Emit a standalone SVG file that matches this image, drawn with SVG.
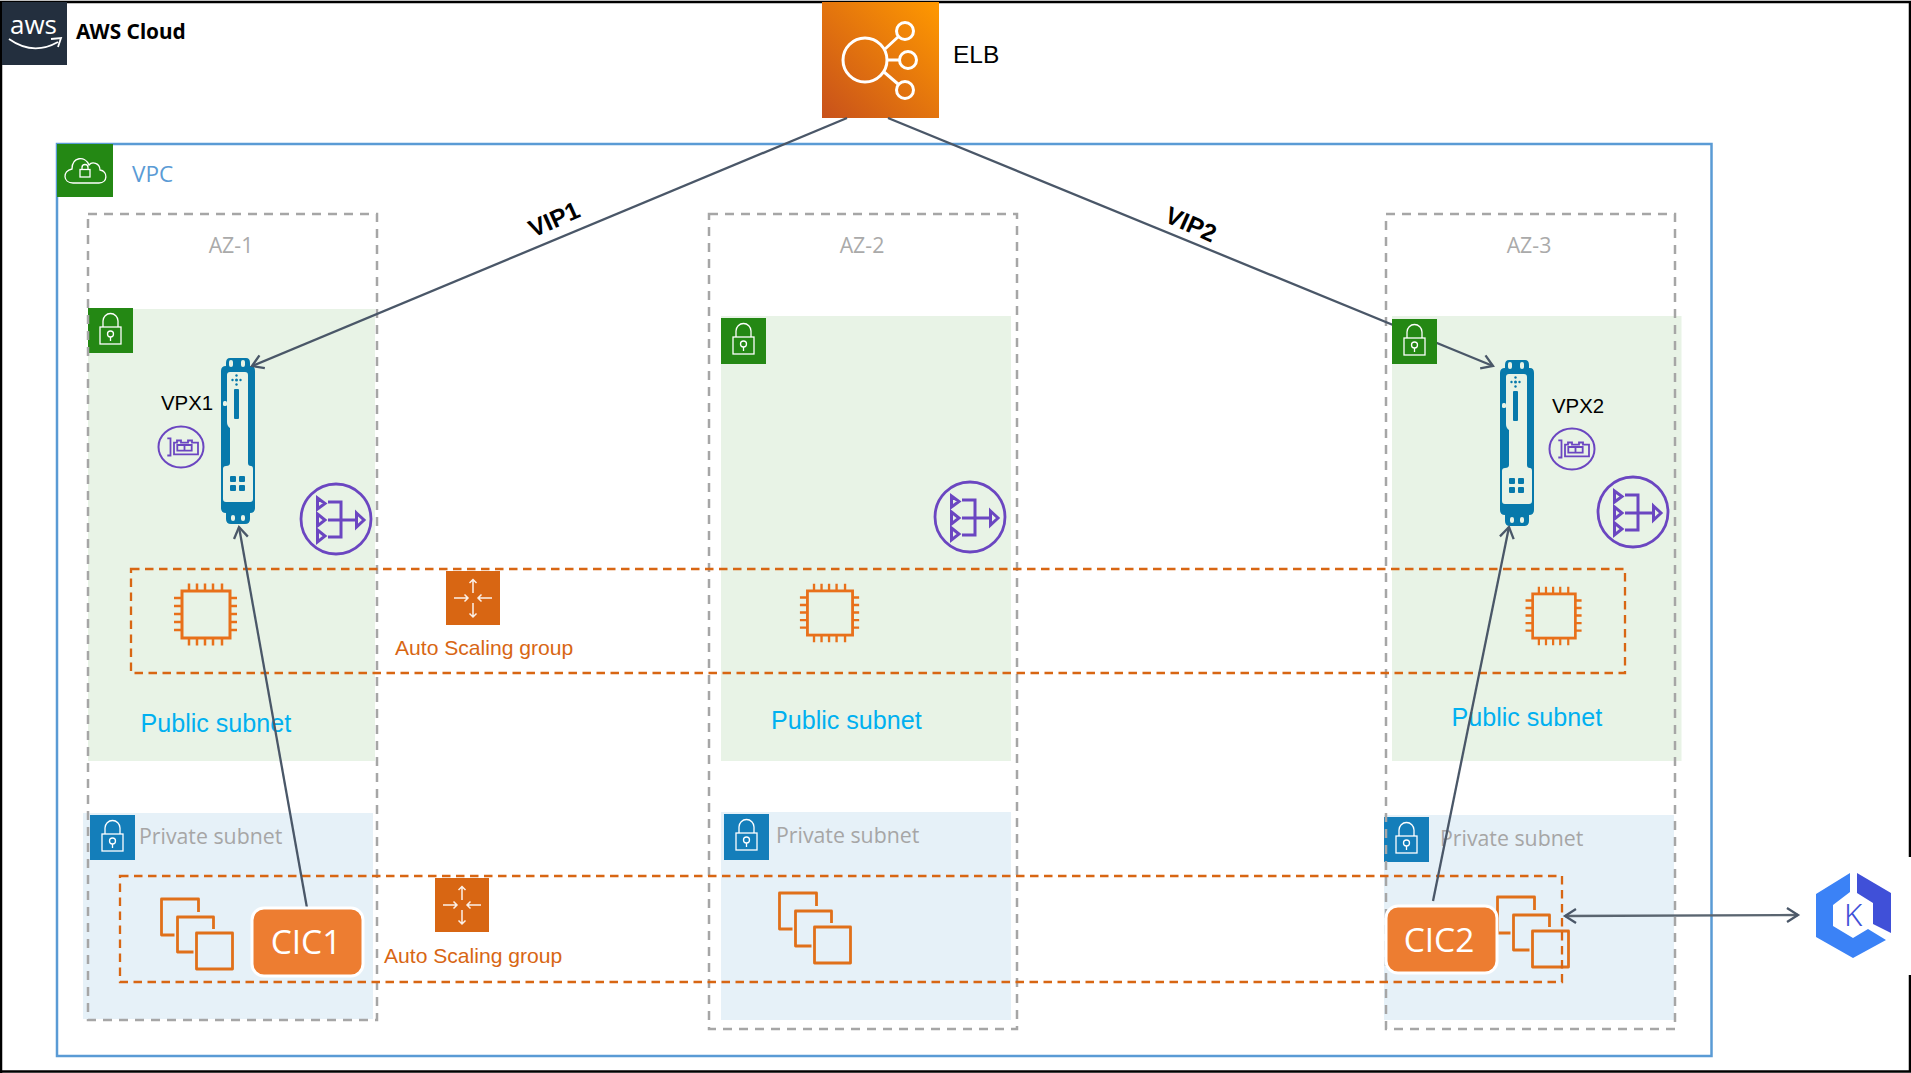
<svg xmlns="http://www.w3.org/2000/svg" width="1911" height="1073" viewBox="0 0 1911 1073">
<style>
.os{font-family:"Open Sans","Noto Sans",sans-serif}
.ar{font-family:"Liberation Sans",Arial,sans-serif}
.pub{fill:#E8F3E6}.prv{fill:#E6F1F8}
.az{fill:none;stroke:#A6A6A6;stroke-width:2.500;stroke-dasharray:9 7}
.asg{fill:none;stroke:#D86613;stroke-width:2.300;stroke-dasharray:8.500 5.500}
.pubt{font-size:25.100px;fill:#00B0F0}
.prvt{font-size:21.300px;fill:#A6A6A6;font-weight:500}
.azt{font-size:21.300px;fill:#AAAAAA;text-anchor:middle;font-weight:500}
.asgt{font-size:21.100px;fill:#D86613}
.vpxt{font-size:20.400px;fill:#000}
.vip{font-size:24.500px;font-weight:700;fill:#000;text-anchor:middle}
.cict{font-size:33.500px;fill:#fff;text-anchor:middle;font-weight:500}
.cic{fill:#ED7D31;stroke:#fff;stroke-width:3}
.conn{fill:none;stroke:#4A5768;stroke-width:2.300;marker-end:url(#open)}
.w{fill:none;stroke:#fff}
</style>
<defs>
<linearGradient id="elbg" x1="0" y1="1" x2="1" y2="0"><stop offset="0" stop-color="#C8511B"/><stop offset="1" stop-color="#FF9900"/></linearGradient>
<marker id="open" markerUnits="userSpaceOnUse" markerWidth="20" markerHeight="20" refX="13" refY="10" orient="auto-start-reverse" viewBox="0 0 20 20"><path d="M2,3 L13,10 L2,17" fill="none" stroke="#4A5768" stroke-width="2.300"/></marker>
<symbol id="lock" width="45" height="45" viewBox="0 0 45 45" overflow="visible">
<g class="w" stroke-width="1.300"><rect x="12" y="19" width="21" height="17"/><path d="M15,19 V13 a7.500,7.500 0 0 1 15,0 V19"/><circle cx="22.500" cy="26" r="3"/><path d="M22.500,29 V33"/></g>
</symbol>
<symbol id="vpx" width="34" height="166" viewBox="0 0 34 166" overflow="visible">
<path fill="#0779AB" d="M9,0 H25 Q29,0 29,5 V8 H30 Q34,8 34,13 V150 Q34,155 29,155 V161 Q29,166 24,166 H10 Q5,166 5,161 V155 Q0,155 0,150 V13 Q0,8 5,8 V5 Q5,0 9,0 Z"/>
<path fill="#E8F3E6" d="M9,14 H24 Q27,14 27,17 V105 Q27,108 30,108 Q32,108 32,111 V141 Q32,144 29,144 H5 Q2,144 2,141 V111 Q2,108 5,108 Q9,108 9,105 V70 Q6,68 6,64 V17 Q6,14 9,14 Z"/>
<g fill="#E8F3E6"><rect x="8" y="2" width="4" height="7" rx="2"/><rect x="20" y="2" width="4" height="7" rx="2"/><rect x="10" y="157" width="4" height="6" rx="2"/><rect x="20" y="157" width="4" height="6" rx="2"/><rect x="2" y="43" width="4" height="5" rx="1.500"/></g>
<g fill="#0779AB"><rect x="13" y="31" width="5" height="30" rx="1"/><rect x="9" y="118" width="6" height="6" rx="1"/><rect x="18" y="118" width="6" height="6" rx="1"/><rect x="9" y="127" width="6" height="6" rx="1"/><rect x="18" y="127" width="6" height="6" rx="1"/><circle cx="15.500" cy="17.500" r="1.200"/><circle cx="15.500" cy="26.500" r="1.200"/><circle cx="11.500" cy="22" r="1.200"/><circle cx="19.500" cy="22" r="1.200"/><circle cx="15.500" cy="22" r="1.500"/></g>
</symbol>
<g id="nat">
<circle r="35" fill="none" stroke="#6B46C1" stroke-width="2.800"/>
<g fill="none" stroke="#6B46C1" stroke-width="3"><path d="M-18.500,-21 L-11,-15.500 L-18.500,-10 Z M-18.500,-5 L-11,1 L-18.500,7 Z M-18.500,11 L-11,17 L-18.500,23 Z"/><path d="M-8,-17 H5 V18 H-8 M-8,1 H20"/><path d="M20.500,-6 L28,1 L20.500,8 Z"/></g>
</g>
<g id="vol">
<ellipse rx="22.500" ry="20.500" fill="none" stroke="#6B46C1" stroke-width="2"/>
<g fill="none" stroke="#6B46C1" stroke-width="1.800"><path d="M-13.700,-8.700 H-10.500 V8.500 H-13.700"/><path d="M-7,7.300 V-4.300 H-4 V-6.500 H0 V-4.300 H7 V-6.500 H11 V-4.300 H17 V7.300 Z"/><path d="M-3.700,-2 H10.700 V3.700 H-3.700 Z M3.500,-2 V3.700"/></g>
</g>
<g id="chip" fill="none" stroke="#E8701A">
<rect x="-24" y="-23.500" width="48" height="47" stroke-width="3"/>
<path stroke-width="2.500" d="M-17,-31 V-24 M-9,-31 V-24 M-1,-31 V-24 M7,-31 V-24 M16,-31 V-24 M-17,24 V31 M-9,24 V31 M-1,24 V31 M7,24 V31 M16,24 V31 M-32,-16.500 H-24 M-32,-8.500 H-24 M-32,-0.500 H-24 M-32,7.500 H-24 M-32,15.500 H-24 M24,-16.500 H31 M24,-8.500 H31 M24,-0.500 H31 M24,7.500 H31 M24,15.500 H31"/>
</g>
<g id="stack" fill="none" stroke="#E0701A" stroke-width="2.800" stroke-linejoin="round">
<path d="M37,13 V0 H0 V36 H13"/><path d="M52,30 V18 H16 V53 H32"/><rect x="35" y="34" width="36" height="36"/>
</g>
<g id="asgi">
<rect width="54" height="54" fill="#D86613"/>
<g fill="none" stroke="#fff" stroke-opacity=".9" stroke-width="1.500"><path d="M27,22 V8.500 M23.500,12 L27,8.500 L30.500,12 M27,32 V46 M23.500,42.500 L27,46 L30.500,42.500 M8,27 H22 M18.500,23.500 L22,27 L18.500,30.500 M46,27 H32 M35.500,23.500 L32,27 L35.500,30.500"/></g>
</g>
</defs>

<g id="frame" fill="none" stroke="#000" stroke-width="2.500">
<path d="M1,1073 V2 H1910 V857 M1910,975 V1071.500 H0"/>
</g>

<g id="aws-cloud">
<rect x="2" y="2" width="65" height="63" fill="#232F3E"/>
<text x="10" y="34" class="os" font-size="26" fill="#fff">aws</text>
<path d="M9,39 Q33,56 58,42 M51,39 L61,38 L58,47" fill="none" stroke="#fff" stroke-width="1.800"/>
<text x="76" y="39" font-family="'Noto Sans',sans-serif" font-weight="700" font-size="20.800" fill="#000">AWS Cloud</text>
</g>

<g id="elb">
<rect x="822" y="2" width="117" height="116" fill="url(#elbg)"/>
<g fill="none" stroke="#fff" stroke-width="3"><circle cx="865" cy="60" r="22"/><circle cx="905" cy="31" r="8.500"/><circle cx="908" cy="60" r="8.500"/><circle cx="905" cy="90" r="8.500"/><path d="M885,49 L898,37 M887,60 H899 M884,72 L898,84"/></g>
<text x="953" y="63" class="ar" font-size="24.500" fill="#000">ELB</text>
</g>

<g id="vpc">
<rect x="57" y="144" width="1654.500" height="912" fill="none" stroke="#5A9BD5" stroke-width="2.500"/>
<rect x="57" y="144" width="56" height="53" fill="#248814"/>
<path class="w" stroke-width="1.300" d="M73,183 H99 C108,183 108,171 100,170 C100,163 92,161 89,165 C85,155 72,157 72,169 C62,171 63,183 73,183 Z"/>
<rect class="w" stroke-width="1.300" x="80" y="169.500" width="10" height="7.500"/><path class="w" stroke-width="1.300" d="M82,169.500 V167.500 a3,3 0 0 1 6,0 V169.500"/>
<text x="132" y="182" class="os" font-size="22.500" fill="#5A9BD5">VPC</text>
</g>

<g id="subnet-pub-1"><rect class="pub" x="88" y="309" width="287" height="452"/><rect x="88" y="308" width="45" height="45" fill="#248814"/><use href="#lock" x="88" y="308"/><text class="pubt ar" x="140.500" y="732">Public subnet</text></g>
<g id="subnet-pub-2"><rect class="pub" x="721" y="316" width="290" height="445"/><rect x="721" y="318" width="45" height="46" fill="#248814"/><use href="#lock" x="721" y="318"/><text class="pubt ar" x="771" y="729">Public subnet</text></g>
<g id="subnet-pub-3"><rect class="pub" x="1392" y="316" width="289.500" height="445"/><text class="pubt ar" x="1451.500" y="726">Public subnet</text></g>
<g id="subnet-prv-1"><rect class="prv" x="83" y="813" width="290" height="206"/><rect x="90" y="815" width="45" height="45" fill="#147EBA"/><use href="#lock" x="90" y="815"/><text class="prvt os" x="139" y="844">Private subnet</text></g>
<g id="subnet-prv-2"><rect class="prv" x="721" y="812" width="290" height="208"/><rect x="724" y="814" width="45" height="46" fill="#147EBA"/><use href="#lock" x="724" y="814"/><text class="prvt os" x="776" y="843">Private subnet</text></g>
<g id="subnet-prv-3"><rect class="prv" x="1384" y="815" width="290" height="205"/><rect x="1384" y="817" width="45" height="45" fill="#147EBA"/><use href="#lock" x="1384" y="817"/><text class="prvt os" x="1440" y="846">Private subnet</text></g>

<g id="az-1"><rect class="az" x="88" y="214" width="289" height="806"/><text class="azt os" x="231" y="253">AZ-1</text></g>
<g id="az-2"><rect class="az" x="709" y="214" width="308" height="815"/><text class="azt os" x="862" y="253">AZ-2</text></g>
<g id="az-3"><rect class="az" x="1386" y="214" width="289" height="815"/><text class="azt os" x="1529" y="253">AZ-3</text></g>

<g id="stack-1"><use href="#stack" x="161.500" y="899"/></g>
<g id="stack-2"><use href="#stack" x="779.500" y="893"/></g>
<g id="stack-3"><use href="#stack" x="1497.500" y="897"/></g>

<g id="asg-public"><rect class="asg" x="131" y="569" width="1494" height="104"/><use href="#asgi" x="446" y="571"/><text class="asgt ar" x="395" y="655">Auto Scaling group</text></g>
<g id="asg-private"><rect class="asg" x="120" y="876" width="1442" height="106"/><use href="#asgi" x="435" y="878"/><text class="asgt ar" x="384" y="963">Auto Scaling group</text></g>

<g id="chip-1"><use href="#chip" transform="translate(206,614.500)"/></g>
<g id="chip-2"><use href="#chip" transform="translate(830,613) scale(.94)"/></g>
<g id="chip-3"><use href="#chip" transform="translate(1554,616) scale(.89,.94)"/></g>

<g id="vpx-1"><use href="#vpx" x="221" y="358"/><text class="vpxt ar" x="161" y="410">VPX1</text><use href="#vol" x="181" y="447"/></g>
<g id="vpx-2"><use href="#vpx" x="1500" y="360"/><text class="vpxt ar" x="1552" y="413">VPX2</text><use href="#vol" x="1572" y="449"/></g>
<g id="nat-1"><use href="#nat" x="336" y="519"/></g>
<g id="nat-2"><use href="#nat" x="970" y="517"/></g>
<g id="nat-3"><use href="#nat" x="1633" y="512"/></g>

<g id="connectors">
<path class="conn" d="M847,118 L252,366"/>
<path class="conn" d="M888,118 L1493,366"/>
<path class="conn" d="M307,908 L239,527"/>
<path class="conn" d="M1433,901 L1509,527"/>
<path class="conn" style="marker-start:url(#open);stroke:#5A6570" d="M1565,916 L1798,915"/>
<text class="vip ar" transform="translate(557.500,227) rotate(-24)">VIP1</text>
<text class="vip ar" transform="translate(1187.500,232) rotate(24)">VIP2</text>
</g>

<g id="lock-pub-3"><rect x="1392" y="319" width="45" height="45" fill="#248814"/><use href="#lock" x="1392" y="319"/></g>

<g id="cic-1"><rect class="cic" x="252" y="908" width="111" height="68" rx="12"/><text class="cict os" x="306" y="954">CIC1</text></g>
<g id="cic-2"><rect class="cic" x="1386" y="906" width="111" height="67" rx="12"/><text class="cict os" x="1439" y="952">CIC2</text></g>

<g id="kubernetes">
<path fill="#3B82F6" d="M1850,873 V892 L1833,905 V926 L1853,938 L1868,929 L1886,940 L1853,958 L1816,937 V894 Z"/>
<path fill="#4050D8" d="M1857,873 L1891,893 V933 L1873,924 V903 L1857,893 Z"/>
<text x="1844" y="926" font-family="'Noto Sans',sans-serif" font-size="31" font-weight="300" fill="#4050D8">K</text>
</g>
</svg>
